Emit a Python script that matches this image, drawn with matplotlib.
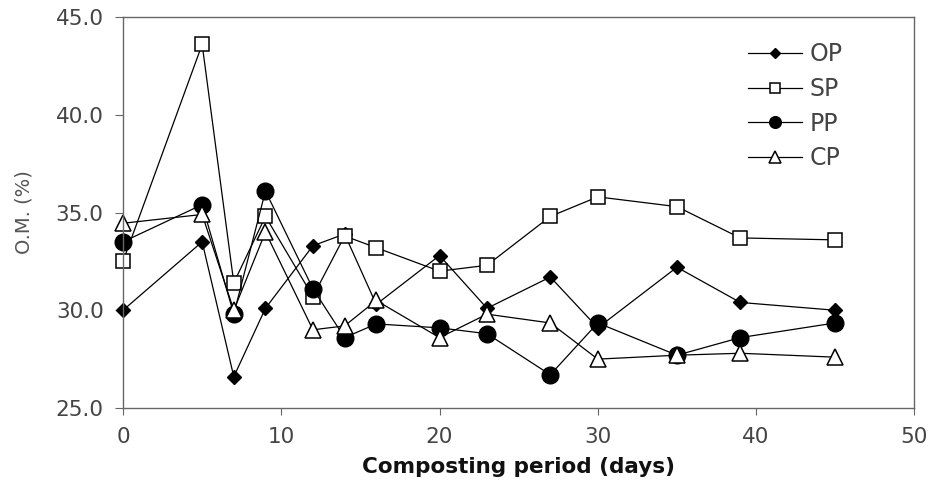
import matplotlib.pyplot as plt

# Composting period vs organic matter
days = [0, 5, 7, 9, 12, 14, 16, 20, 23, 27, 30, 35, 39, 45]
op = [30.0, 33.5, 26.6, 30.1, 33.3, 33.9, 30.3, 32.8, 30.1, 31.7, 29.1, 32.2, 30.4, 30.0]
sp = [32.5, 43.6, 31.4, 34.8, 30.7, 33.8, 33.2, 32.0, 32.3, 34.8, 35.8, 35.3, 33.7, 33.6]
pp = [33.5, 35.4, 29.8, 36.1, 31.1, 28.6, 29.3, 29.1, 28.8, 26.7, 29.35, 27.7, 28.6, 29.35]
cp = [34.45, 34.9, 30.0, 34.0, 29.0, 29.2, 30.5, 28.6, 29.8, 29.35, 27.5, 27.7, 27.8, 27.6]

xticks = [0, 10, 20, 30, 40, 50]
yticks = [25, 30, 35, 40, 45]

plt.rcParams['font.family'] = ['DejaVu Sans']

fig = plt.figure(figsize=(9.32, 4.86), dpi=100)
ax = fig.add_axes([0.132, 0.1605, 0.849, 0.8045])

lw = 0.9
ax.plot(days, op, color='black', lw=lw, marker='D', ms=7, mfc='black', mec='black',
        clip_on=False, label='OP')
ax.plot(days, sp, color='black', lw=lw, marker='s', ms=10, mfc='white', mec='black', mew=1.1,
        clip_on=False, label='SP')
ax.plot(days, pp, color='black', lw=lw, marker='o', ms=12, mfc='black', mec='black',
        clip_on=False, label='PP')
ax.plot(days, cp, color='black', lw=lw, marker='^', ms=12, mfc='white', mec='black', mew=1.1,
        clip_on=False, label='CP')

ax.set_xlim(0, 50)
ax.set_ylim(25, 45)
ax.set_xticks(xticks)
ax.set_yticks(yticks)
ax.set_yticklabels(['%.1f' % v for v in yticks])

for s in ax.spines.values():
    s.set_color('#666666')
    s.set_linewidth(1.0)

ax.tick_params(axis='x', direction='out', length=5, pad=9, colors='#666666',
               labelsize=15.5, labelcolor='#444444')
ax.tick_params(axis='y', direction='out', length=6, pad=8, colors='#666666',
               labelsize=15.5, labelcolor='#444444')

ax.set_xlabel('Composting period (days)', fontsize=15.5, fontweight='bold', color='#111111', labelpad=7)
ax.set_ylabel('O.M. (%)', fontsize=14, color='#555555', labelpad=16)

leg = ax.legend(loc='upper left', bbox_to_anchor=(0.79, 0.935), frameon=False,
                fontsize=17, handlelength=2.3, handletextpad=0.3, labelspacing=0.45,
                markerscale=0.7, borderpad=0, borderaxespad=0)
for t in leg.get_texts():
    t.set_color('#444444')

plt.savefig('out.png', dpi=100)
plt.close()
